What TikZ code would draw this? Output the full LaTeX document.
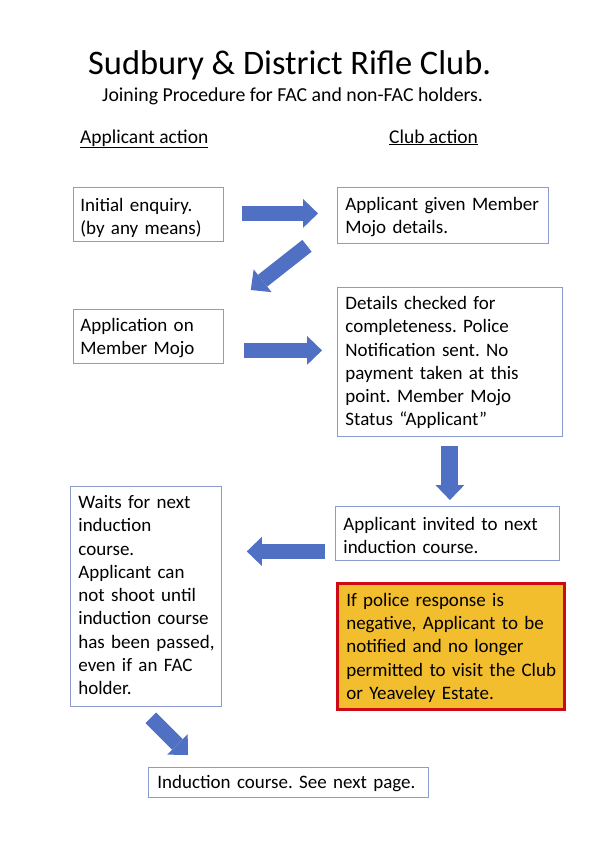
\documentclass[tikz,border=0pt]{standalone}
\usepackage{fontspec}
\setmainfont{Carlito}
\usetikzlibrary{calc, arrows.meta}
\definecolor{boxline}{RGB}{140,155,205}
\definecolor{arrowblue}{RGB}{80,112,196}
\definecolor{warnred}{RGB}{205,10,20}
\definecolor{warnfill}{RGB}{242,190,46}
\newcommand{\bodyfont}{\fontsize{19}{23.3}\selectfont\frenchspacing}
\newcommand{\boxlines}[1]{\begin{tabular}[t]{@{}l@{}}#1\end{tabular}}

\begin{document}
\begin{tikzpicture}[x=1pt, y=-1pt,
  box/.style={draw=boxline, line width=0.8pt, fill=white, inner ysep=0pt, inner xsep=8pt, align=left, anchor=north west, font=\bodyfont, text height=23pt},
  warnbox/.style={box, draw=warnred, line width=2.6pt, fill=warnfill, inner xsep=9pt},
  blockarrow/.style={draw=arrowblue, line width=15pt, -{Triangle[width=29pt, length=15pt, line width=0pt]}},
  heading/.style={anchor=base west, inner sep=0pt, font=\fontsize{19.5}{23}\selectfont}]
\useasboundingbox (0,0) rectangle (595,841);
% titles
\node[heading, font=\fontsize{34.4}{40}\selectfont] (title) at (88,74) {Sudbury \& District Rifle Club.};
\node[heading, font=\fontsize{19.8}{23}\selectfont] (subtitle) at (102,101) {Joining Procedure for FAC and non-FAC holders.};
\node[heading] (applicant) at (80,143) {\underline{Applicant action}};
\node[heading] (club) at (389,143) {\underline{Club action}};
% boxes
\node[box, inner xsep=7pt, text width=136pt, text height=24pt, text depth=30pt] (enquiry) at (73,187) {\boxlines{Initial enquiry.\\(by any means)}};
\node[box, text width=195pt, text depth=33pt] (given) at (337,187) {\boxlines{Applicant given Member\\Mojo details.}};
\node[box, inner xsep=7pt, text width=136pt, text height=22pt, text depth=32pt] (application) at (73,309) {\boxlines{Application on\\Member Mojo}};
\node[box, text width=209pt, text height=22pt, text depth=127pt] (checked) at (337,287) {\boxlines{Details checked for\\completeness. Police\\Notification sent. No\\payment taken at this\\point. Member Mojo\\Status “Applicant”}};
\node[box, text width=135pt, text height=22pt, text depth=198pt] (waits) at (70,486) {\boxlines{Waits for next\\induction\\course.\\Applicant can\\not shoot until\\induction course\\has been passed,\\even if an FAC\\holder.}};
\node[box, text width=208pt, text height=24pt, text depth=30pt] (invited) at (335,506) {\boxlines{Applicant invited to next\\induction course.}};
\node[warnbox, text width=209pt, text depth=103pt] (negative) at (336,582) {\boxlines{If police response is\\negative, Applicant to be\\notified and no longer\\permitted to visit the Club\\or Yeaveley Estate.}};
\node[box, inner xsep=9pt, text width=262pt, text height=21pt, text depth=9pt] (induction) at (148,767) {\boxlines{Induction course. See next page.}};
% arrows
\draw[blockarrow, shorten <=18pt, shorten >=19pt] ([yshift=1pt]enquiry.east) -- ([yshift=1pt]enquiry.east -| given.west);
\draw[blockarrow] ([xshift=-30pt,yshift=-2pt]given.south west) -- ([xshift=27pt,yshift=19pt]application.north east);
\draw[blockarrow, shorten <=20pt, shorten >=15pt] ([yshift=-14pt]application.east) -- ([yshift=-14pt]application.east -| checked.west);
\draw[blockarrow, line width=17pt, shorten <=9pt, shorten >=6pt] (checked.south) -- (checked.south |- invited.north);
\draw[blockarrow, shorten <=10pt, shorten >=25pt] ([yshift=-18pt]invited.west) -- ([yshift=-18pt]invited.west -| waits.east);
\draw[blockarrow] ([xshift=5pt,yshift=-11pt]waits.south) -- ([xshift=40pt,yshift=12pt]induction.north west);
\end{tikzpicture}
\end{document}
